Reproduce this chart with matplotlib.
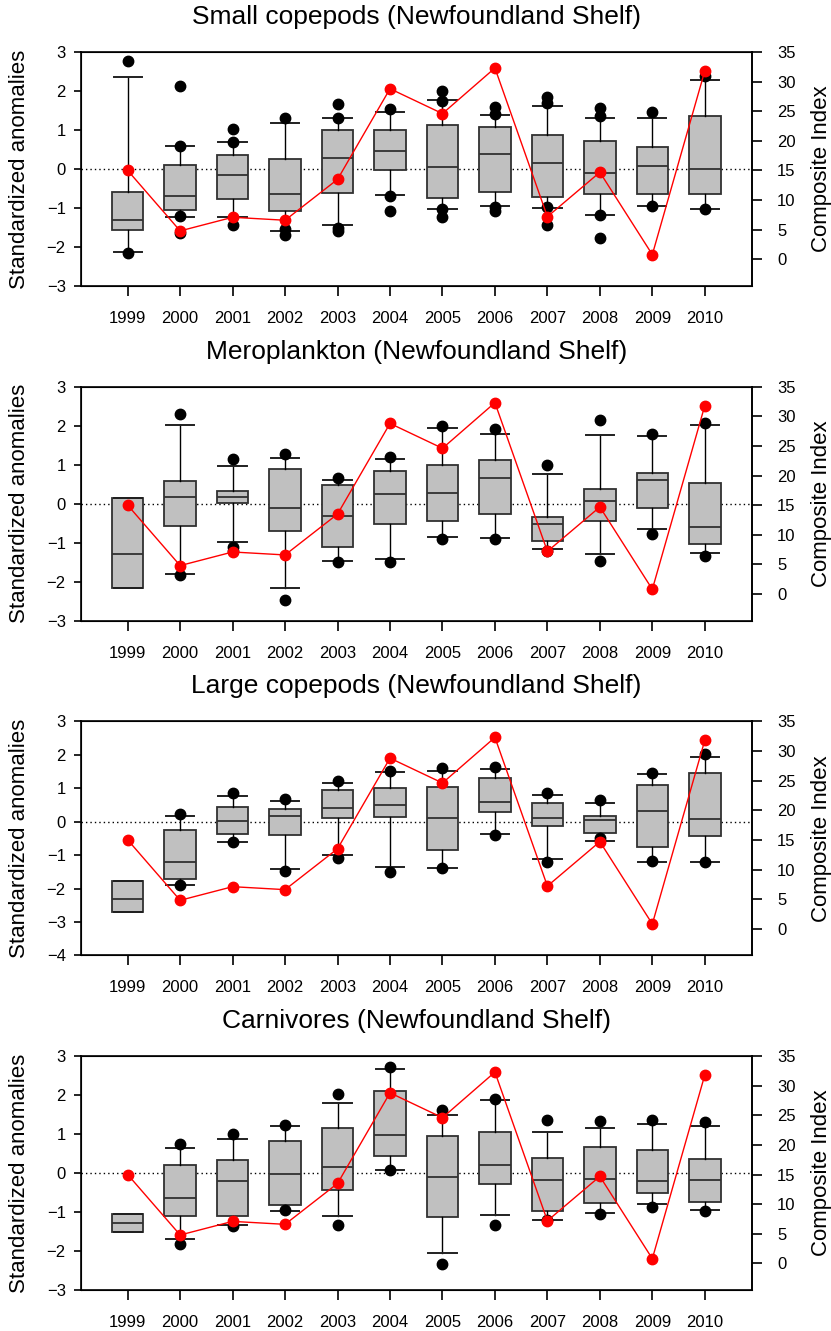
import matplotlib.pyplot as plt

plt.rcParams['font.family'] = ['Liberation Sans', 'DejaVu Sans']

years = [1999, 2000, 2001, 2002, 2003, 2004, 2005, 2006, 2007, 2008, 2009, 2010]
composite = [15.0, 4.8, 7.1, 6.6, 13.5, 28.8, 24.6, 32.3, 7.2, 14.7, 0.8, 31.8]

# Small copepods
sc_med = [-1.31, -0.69, -0.15, -0.64, 0.27, 0.46, 0.04, 0.38, 0.15, -0.10, 0.07, 0.00]
sc_q1 = [-1.56, -1.04, -0.77, -1.08, -0.62, -0.02, -0.75, -0.60, -0.73, -0.63, -0.64, -0.63]
sc_q3 = [-0.58, 0.10, 0.36, 0.25, 1.00, 1.00, 1.12, 1.07, 0.86, 0.71, 0.56, 1.35]
sc_lo = [-2.13, -1.22, -1.23, -1.58, -1.44, -0.66, -1.03, -0.95, -1.01, -1.17, -0.96, -1.03]
sc_hi = [2.36, 0.58, 0.68, 1.17, 1.31, 1.47, 1.77, 1.38, 1.61, 1.31, 1.31, 2.29]
sc_out = [[2.77, -2.15], [2.13, 0.60, -1.20, -1.65], [1.02, 0.70, -1.43], [1.31, -1.55, -1.70],
          [1.66, 1.31, -1.50, -1.58], [1.54, -0.68, -1.08], [1.99, 1.75, -1.03, -1.23],
          [1.60, 1.40, -0.97, -1.08], [1.85, 1.68, -0.98, -1.43], [1.57, 1.35, -1.17, -1.77],
          [1.47, -0.96], [2.38, -1.03]]

# Meroplankton
mp_med = [-1.30, 0.16, 0.17, -0.10, -0.32, 0.25, 0.27, 0.65, -0.52, 0.07, 0.62, -0.59]
mp_q1 = [-2.17, -0.58, 0.03, -0.69, -1.10, -0.51, -0.44, -0.27, -0.95, -0.45, -0.10, -1.03]
mp_q3 = [0.15, 0.59, 0.33, 0.90, 0.48, 0.83, 0.99, 1.13, -0.34, 0.37, 0.79, 0.54]
mp_lo = [-2.17, -1.80, -0.97, -2.16, -1.47, -1.42, -0.85, -0.89, -1.17, -1.30, -0.66, -1.27]
mp_hi = [0.15, 2.03, 0.96, 1.18, 0.62, 1.15, 1.95, 1.80, 0.77, 1.77, 1.73, 2.03]
mp_out = [[], [2.29, -1.84], [1.14, -1.10, -1.20], [1.27, -2.46], [0.66, -1.50],
          [1.19, -1.50], [2.00, -0.90], [1.92, -0.90], [0.99, -1.20], [2.14, -1.46],
          [1.79, -0.78], [2.06, -1.33]]

# Large copepods
lc_med = [-2.32, -1.21, 0.02, 0.16, 0.40, 0.49, 0.11, 0.59, 0.10, 0.06, 0.33, 0.08]
lc_q1 = [-2.69, -1.70, -0.38, -0.41, 0.12, 0.15, -0.85, 0.29, -0.12, -0.33, -0.77, -0.44]
lc_q3 = [-1.76, -0.24, 0.44, 0.38, 0.95, 1.01, 1.05, 1.31, 0.57, 0.18, 1.09, 1.47]
lc_lo = [-2.69, -1.90, -0.61, -1.43, -1.00, -1.35, -1.40, -0.38, -1.12, -0.57, -1.20, -1.20]
lc_hi = [-1.76, 0.18, 0.78, 0.62, 1.17, 1.49, 1.53, 1.59, 0.80, 0.57, 1.42, 1.95]
lc_out = [[], [0.23, -1.88], [0.86, -0.60], [0.67, -1.48], [1.23, -1.09], [1.53, -1.50],
          [1.60, -1.40], [1.65, -0.40], [0.86, -1.22], [0.66, -0.50], [1.46, -1.19],
          [2.03, -1.20]]

# Carnivores
cv_med = [-1.27, -0.65, -0.21, -0.02, 0.15, 0.97, -0.10, 0.20, -0.17, -0.15, -0.21, -0.17]
cv_q1 = [-1.51, -1.09, -1.09, -0.83, -0.44, 0.43, -1.13, -0.27, -0.96, -0.77, -0.52, -0.75]
cv_q3 = [-1.05, 0.21, 0.33, 0.82, 1.16, 2.11, 0.94, 1.06, 0.39, 0.67, 0.60, 0.37]
cv_lo = [-1.51, -1.68, -1.32, -0.96, -1.11, 0.09, -2.05, -1.08, -1.20, -1.03, -0.79, -0.94]
cv_hi = [-1.05, 0.65, 0.87, 1.20, 1.81, 2.68, 1.50, 1.87, 1.05, 1.16, 1.26, 1.20]
cv_out = [[], [0.74, -1.82], [1.01, -1.36], [1.24, -0.94], [2.02, -1.32], [2.72, 0.09],
          [1.63, -2.33], [1.91, -1.32], [1.35, -1.20], [1.34, -1.06], [1.35, -0.86],
          [1.31, -0.96]]

titles = ['Small copepods (Newfoundland Shelf)', 'Meroplankton (Newfoundland Shelf)',
          'Large copepods (Newfoundland Shelf)', 'Carnivores (Newfoundland Shelf)']
panels = [(sc_med, sc_q1, sc_q3, sc_lo, sc_hi, sc_out, (-3, 3)),
          (mp_med, mp_q1, mp_q3, mp_lo, mp_hi, mp_out, (-3, 3)),
          (lc_med, lc_q1, lc_q3, lc_lo, lc_hi, lc_out, (-4, 3)),
          (cv_med, cv_q1, cv_q3, cv_lo, cv_hi, cv_out, (-3, 3))]

W, H = 831, 1331
fig = plt.figure(figsize=(W / 100, H / 100), dpi=100)
pos = list(range(1, len(years) + 1))

for i, (title, (med, q1, q3, lo, hi, out, ylim)) in enumerate(zip(titles, panels)):
    top = 52 + i * 334.7
    ax = fig.add_axes([81 / W, 1 - (top + 234) / H, 671 / W, 234 / H])

    stats = []
    for k in range(len(years)):
        stats.append({'med': med[k], 'q1': q1[k], 'q3': q3[k],
                      'whislo': lo[k], 'whishi': hi[k], 'fliers': out[k]})
    ax.bxp(stats, positions=pos, widths=0.6, capwidths=0.54, patch_artist=True,
           boxprops=dict(facecolor='#c0c0c0', edgecolor='#303030', linewidth=1.3),
           medianprops=dict(color='#303030', linewidth=1.3),
           whiskerprops=dict(color='black', linewidth=1.0),
           capprops=dict(color='#202020', linewidth=1.4),
           flierprops=dict(marker='o', markerfacecolor='black', markeredgecolor='black',
                           markersize=7.5))
    ax.axhline(0, color='black', linestyle=(0, (1, 2.2)), linewidth=1.0, zorder=1)

    ax.set_xlim(0.11, 12.9)
    ax.set_ylim(*ylim)
    ax.set_yticks(range(ylim[0], ylim[1] + 1))
    ax.set_xticks(pos)
    ax.set_xticklabels([str(y) for y in years])
    ax.tick_params(axis='x', direction='out', length=7, width=1.2, pad=11, labelsize=12)
    ax.tick_params(axis='y', direction='out', length=5, width=1.2, pad=6, labelsize=12)
    for s in ax.spines.values():
        s.set_linewidth(1.2)
    ax.set_ylabel('Standardized anomalies', fontsize=16, labelpad=12)

    ax2 = ax.twinx()
    ax2.plot(pos, composite, color='red', linewidth=1.0, marker='o', markersize=7.5,
             markerfacecolor='red', markeredgecolor='red')
    ax2.set_ylim(-4.5, 35)
    ax2.set_yticks(range(0, 36, 5))
    ax2.tick_params(axis='y', direction='out', length=7, width=1.2, pad=11, labelsize=12)
    ax2.spines['right'].set_linewidth(1.2)
    ax2.set_ylabel('Composite Index', fontsize=16, labelpad=11)

    fig.text(416.5 / W, 1 - (top - 35) / H, title, fontsize=19, ha='center', va='center')

fig.savefig('out.png', dpi=100)
